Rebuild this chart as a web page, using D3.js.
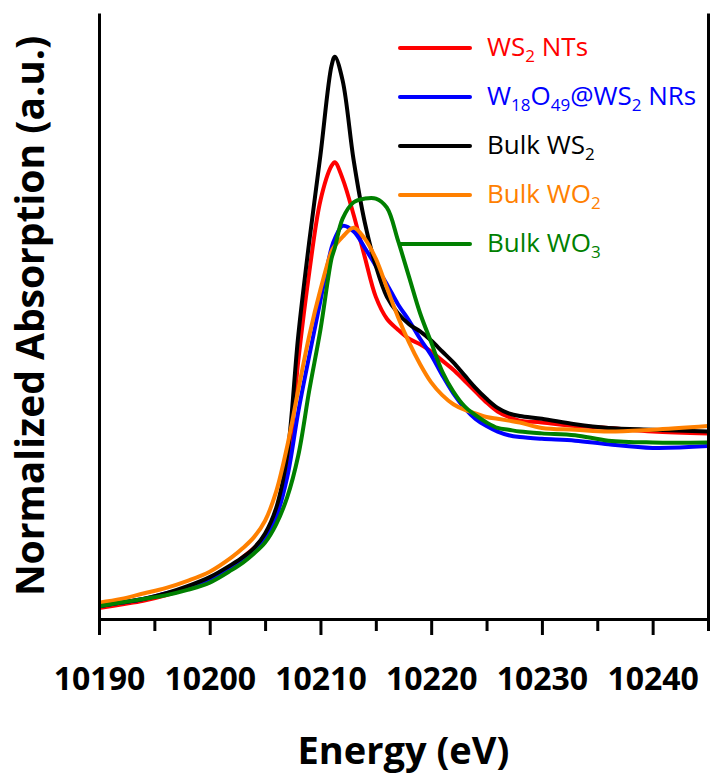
<!DOCTYPE html>
<html>
<head>
<meta charset="utf-8">
<script src="https://cdn.jsdelivr.net/npm/d3@7"></script>
<style>
  body { margin: 0; background: #fff; }
  svg { display: block; font-family: "Open Sans", sans-serif; }
</style>
</head>
<body>
<svg id="chart"></svg>
<script>
// Energy grid (eV) shared by all spectra
const energy = [10190, 10192, 10194, 10196, 10198, 10200, 10202, 10203, 10204, 10205,
  10206, 10207, 10208, 10209, 10210, 10211, 10211.3, 10212, 10213, 10214,
  10215, 10216, 10217, 10218, 10219, 10220, 10221, 10222, 10223, 10224,
  10225, 10226, 10227, 10228, 10230, 10233, 10236, 10240, 10245];

// Normalized absorption
const ws2NTs = [0.06, 0.08, 0.10, 0.13, 0.17, 0.22, 0.29, 0.34, 0.39, 0.46,
  0.58, 0.82, 1.42, 1.91, 2.30, 2.49, 2.51, 2.42, 2.22, 1.99,
  1.77, 1.65, 1.59, 1.54, 1.51, 1.47, 1.42, 1.37, 1.31, 1.25,
  1.19, 1.14, 1.11, 1.09, 1.08, 1.06, 1.05, 1.03, 1.02];
const w18o49NRs = [0.07, 0.09, 0.11, 0.14, 0.17, 0.21, 0.28, 0.32, 0.37, 0.44,
  0.56, 0.78, 1.14, 1.45, 1.75, 2.04, 2.09, 2.16, 2.13, 2.04,
  1.94, 1.84, 1.73, 1.64, 1.54, 1.45, 1.34, 1.24, 1.16, 1.10,
  1.06, 1.03, 1.01, 1.00, 0.99, 0.98, 0.96, 0.94, 0.95];
const bulkWS2 = [0.07, 0.09, 0.11, 0.14, 0.18, 0.23, 0.30, 0.34, 0.39, 0.47,
  0.61, 0.90, 1.56, 2.08, 2.55, 3.04, 3.09, 2.96, 2.52, 2.18,
  1.94, 1.77, 1.68, 1.62, 1.58, 1.53, 1.47, 1.41, 1.34, 1.27,
  1.21, 1.16, 1.13, 1.115, 1.10, 1.07, 1.05, 1.04, 1.03];
const bulkWO2 = [0.09, 0.11, 0.14, 0.17, 0.21, 0.26, 0.34, 0.39, 0.45, 0.54,
  0.70, 0.95, 1.26, 1.56, 1.81, 2.02, 2.05, 2.10, 2.15, 2.09,
  1.98, 1.82, 1.66, 1.52, 1.40, 1.30, 1.23, 1.18, 1.15, 1.13,
  1.11, 1.10, 1.09, 1.08, 1.05, 1.04, 1.03, 1.04, 1.06];
const bulkWO3 = [0.07, 0.09, 0.11, 0.13, 0.16, 0.20, 0.27, 0.31, 0.36, 0.42,
  0.52, 0.67, 0.90, 1.26, 1.59, 1.98, 2.04, 2.20, 2.29, 2.31,
  2.31, 2.26, 2.08, 1.88, 1.68, 1.52, 1.36, 1.25, 1.17, 1.12,
  1.08, 1.05, 1.04, 1.03, 1.02, 1.01, 0.98, 0.97, 0.97];

// Legend labels: [text, isSubscript]
const labels = [
  [["WS", 0], ["2", 1], [" NTs", 0]],
  [["W", 0], ["18", 1], ["O", 0], ["49", 1], ["@WS", 0], ["2", 1], [" NRs", 0]],
  [["Bulk WS", 0], ["2", 1]],
  [["Bulk WO", 0], ["2", 1]],
  [["Bulk WO", 0], ["3", 1]]
];
const colors = ["#ff0000", "#0000ff", "#000000", "#ff8000", "#008000"];
const series = [ws2NTs, w18o49NRs, bulkWS2, bulkWO2, bulkWO3];

const majorTicks = [10190, 10200, 10210, 10220, 10230, 10240];
const minorTicks = [10195, 10205, 10215, 10225, 10235, 10245];

// layout
const svgWidth = 710, svgHeight = 778;
const margin = { top: 13, right: 2, bottom: 159, left: 99 };
const width = svgWidth - margin.left - margin.right;
const height = svgHeight - margin.top - margin.bottom;

const svg = d3.select("#chart")
    .attr("width", svgWidth)
    .attr("height", svgHeight);

const chart = svg.append("g")
    .attr("transform", `translate(${margin.left},${margin.top})`);

const xScale = d3.scaleLinear().domain([10190, 10245]).range([0, width]);
const yScale = d3.scaleLinear().domain([0, 3.33]).range([height, 0]);

// curves
const line = d3.line()
    .x((d, i) => xScale(energy[i]))
    .y(d => yScale(d))
    .curve(d3.curveCatmullRom.alpha(0.5));

series.forEach((vals, k) => {
    chart.append("path")
        .datum(vals)
        .attr("fill", "none")
        .attr("stroke", colors[k])
        .attr("stroke-width", 4)
        .attr("stroke-linejoin", "round")
        .attr("d", line);
});

// axes
const minorAxis = chart.append("g")
    .attr("transform", `translate(0,${height})`)
    .call(d3.axisBottom(xScale).tickValues(minorTicks).tickSize(12).tickSizeOuter(0).tickFormat(""));

const xAxis = chart.append("g")
    .attr("transform", `translate(0,${height})`)
    .call(d3.axisBottom(xScale).tickValues(majorTicks).tickSize(16).tickSizeOuter(0)
        .tickPadding(32).tickFormat(d3.format("d")));

const leftAxis = chart.append("g")
    .call(d3.axisLeft(yScale).tickValues([]).tickSizeOuter(0));
const rightAxis = chart.append("g")
    .attr("transform", `translate(${width},0)`)
    .call(d3.axisRight(yScale).tickValues([]).tickSizeOuter(0));

[minorAxis, xAxis, leftAxis, rightAxis].forEach(g => {
    g.selectAll("path, line").attr("stroke", "#000").attr("stroke-width", 3);
});
xAxis.selectAll("text")
    .attr("fill", "#000")
    .style("font-family", "'Open Sans', sans-serif")
    .style("font-size", "32px")
    .style("font-weight", 700);

// legend
const legend = svg.append("g");
labels.forEach((parts, k) => {
    const ly = 48 + k * 49;
    legend.append("line")
        .attr("x1", 400).attr("x2", 470)
        .attr("y1", ly).attr("y2", ly)
        .attr("stroke", colors[k])
        .attr("stroke-width", 4)
        .attr("stroke-linecap", "round");
    const t = legend.append("text")
        .attr("x", 487).attr("y", ly + 8)
        .attr("fill", colors[k])
        .style("font-size", "26px");
    parts.forEach(([s, sub]) => {
        const ts = t.append("tspan").text(s);
        if (sub) ts.style("font-size", "17px").attr("dy", 6);
        else if (t.selectAll("tspan").size() > 1) ts.attr("dy", -6);
    });
});

// axis titles
svg.append("text")
    .attr("x", margin.left + width / 2)
    .attr("y", 764)
    .attr("text-anchor", "middle")
    .style("font-size", "38px")
    .style("font-weight", 700)
    .text("Energy (eV)");

svg.append("text")
    .attr("transform", `translate(44,${margin.top + height / 2}) rotate(-90)`)
    .attr("text-anchor", "middle")
    .style("font-size", "39px")
    .style("font-weight", 700)
    .text("Normalized Absorption (a.u.)");
</script>
</body>
</html>
